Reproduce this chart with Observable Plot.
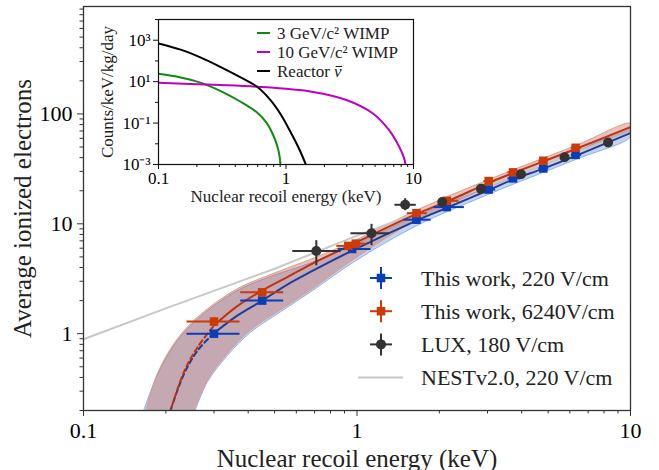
<!DOCTYPE html>
<html><head><meta charset="utf-8">
<script src="https://cdn.jsdelivr.net/npm/d3@7"></script>
<script src="https://cdn.jsdelivr.net/npm/@observablehq/plot@0.6"></script>
<style>
body{margin:0;background:#fff;}
#wrap{position:relative;width:659px;height:470px;font-family:"Liberation Serif",serif;}
#wrap svg{position:absolute;overflow:visible;}
</style></head><body><div id="wrap"></div>
<script>
// ---------- main chart data ----------
const blueE    = [0.30, 0.45, 0.96, 1.65, 2.13, 3.03, 3.72, 4.8, 6.3];
const blueV    = [1.0, 2.0, 5.9, 10.9, 14.2, 20.5, 25.9, 31.9, 42.4];
const blueElo  = [0.238, 0.374, 0.85, 1.48, 1.90, 2.90, 3.55, 4.6, 6.05];
const blueEhi  = [0.372, 0.537, 1.12, 1.86, 2.46, 3.20, 3.95, 5.0, 6.6];
const redE     = [0.30, 0.45, 0.93, 0.99, 1.65, 2.13, 3.03, 3.72, 4.8, 6.3];
const redV     = [1.29, 2.38, 6.3, 6.6, 12.5, 16.2, 24.5, 29.4, 37.5, 49.2];
const redElo   = [0.238, 0.374, 0.84, 0.90, 1.52, 2.0, 2.90, 3.55, 4.6, 6.05];
const redEhi   = [0.372, 0.537, 1.02, 1.08, 1.80, 2.35, 3.20, 3.95, 5.0, 6.6];
const redVlo   = [1.18, 2.2, 6.0, 6.3, 12.0, 15.6, 23.6, 28.4, 36.3, 47.6];
const redVhi   = [1.41, 2.56, 6.6, 6.9, 13.0, 16.8, 25.4, 30.4, 38.7, 50.8];
const luxE     = [0.71, 1.13, 1.50, 2.05, 2.84, 3.98, 5.74, 8.28];
const luxV     = [5.65, 8.2, 14.9, 15.8, 20.8, 28.3, 40.3, 55];
const luxElo   = [0.58, 0.946, 1.37, 2.0, 2.78, 3.9, 5.65, 8.2];
const luxEhi   = [0.87, 1.31, 1.64, 2.1, 2.9, 4.06, 5.83, 8.36];
const luxVlo   = [4.2, 6.4, 13.3, 15.3, 20.2, 27.6, 39.5, 54];
const luxVhi   = [7.1, 10.0, 17.1, 16.3, 21.4, 29.0, 41.1, 56];
// fitted curves
const blueFitE = [0.208, 0.233, 0.261, 0.30, 0.365, 0.45, 0.556, 0.676, 0.96, 1.65, 2.13, 3.03, 3.72, 4.8, 6.3, 10];
const blueFitV = [0.2, 0.43, 0.70, 1.01, 1.46, 2.0, 2.8, 3.65, 5.7, 10.7, 14.0, 20.3, 25.3, 31.8, 41.5, 67];
const redFitE  = [0.208, 0.233, 0.261, 0.30, 0.365, 0.45, 0.556, 0.676, 0.96, 1.65, 2.13, 3.03, 3.72, 4.8, 6.3, 10];
const redFitV  = [0.2, 0.45, 0.75, 1.19, 1.78, 2.47, 3.27, 4.26, 6.5, 12.3, 15.9, 23.6, 29.0, 37.0, 48.0, 76];
// uncertainty bands: upper edge and lower edge
const blueHiE = [0.166, 0.186, 0.214, 0.246, 0.30, 0.374, 0.497, 0.676, 1.0, 1.65, 3.03, 6.3, 10];
const blueHiV = [0.2, 0.42, 0.78, 1.18, 1.8, 2.55, 3.4, 4.4, 6.6, 11.8, 21.8, 45, 73];
const blueLoE = [0.256, 0.283, 0.335, 0.408, 0.525, 0.676, 1.0, 1.65, 3.03, 6.3, 10];
const blueLoV = [0.2, 0.36, 0.63, 1.03, 1.58, 2.4, 4.7, 9.6, 18.6, 38.5, 62];
const redHiE  = [0.169, 0.186, 0.214, 0.246, 0.30, 0.374, 0.497, 0.676, 1.0, 1.65, 3.03, 6.3, 10];
const redHiV  = [0.2, 0.43, 0.81, 1.23, 1.87, 2.65, 3.55, 4.75, 7.2, 13.3, 25.3, 51.5, 82];
const redLoE  = [0.253, 0.283, 0.335, 0.408, 0.525, 0.676, 1.0, 1.65, 3.03, 6.3, 10];
const redLoV  = [0.2, 0.375, 0.66, 1.08, 1.65, 2.5, 5.0, 10.8, 21.5, 44.5, 70];
// NEST v2.0 prediction
const nestE = [0.1, 0.2, 0.5, 1, 2, 5, 10];
const nestV = [0.89, 1.7, 3.9, 7.8, 15, 36, 68];
// ticks
const xMajor = [0.1, 1, 10];
const xMinor = [0.2,0.3,0.4,0.5,0.6,0.7,0.8,0.9,2,3,4,5,6,7,8,9];
const yMajor = [1, 10, 100];
const yMinor = [0.2,0.3,0.4,0.5,0.6,0.7,0.8,0.9,2,3,4,5,6,7,8,9,20,30,40,50,60,70,80,90,200,300,400,500,600,700,800,900];

// ---------- inset data ----------
const reactorE = [0.1, 0.149, 0.213, 0.305, 0.437, 0.59, 0.75, 0.90, 1.07, 1.28, 1.43];
const reactorR = [700, 350, 148, 52, 16.6, 5.8, 1.36, 0.29, 0.044, 0.005, 0.001];
const wimp3E = [0.1, 0.149, 0.213, 0.305, 0.437, 0.59, 0.707, 0.79, 0.86, 0.89, 0.905];
const wimp3R = [24, 16, 9, 3.6, 1.1, 0.33, 0.1, 0.028, 0.0068, 0.0025, 0.001];
const wimp10E = [0.1, 0.27, 0.59, 1.63, 2.98, 4.81, 6.46, 7.76, 8.4, 8.66];
const wimp10R = [8.9, 7.0, 5.7, 3.2, 1.3, 0.29, 0.044, 0.0068, 0.0022, 0.001];
const insetXMajor = [0.1, 1, 10];
const insetYMajor = [1e-3, 1e-1, 1e1, 1e3];
const insetYMinor = [1e-2, 1, 1e2, 1e4];

// colours
const BLUE = "#0a3db8", RED = "#cc3a08", LUX = "#333333";
const BLUE_LINE = "#1f3c9c", RED_LINE = "#bf3314";

const rows = (xs, ys) => xs.map((x, i) => ({x, y: ys[i]}));
const poly = (hx, hy, lx, ly) => rows(hx, hy).concat(rows(lx, ly).reverse());
const pts = (E, V, lo, hi, vlo, vhi) => E.map((e, i) => ({e, v: V[i], lo: lo[i], hi: hi[i], vlo: vlo ? vlo[i] : V[i], vhi: vhi ? vhi[i] : V[i]}));

const bluePts = pts(blueE, blueV, blueElo, blueEhi);
const redPts = pts(redE, redV, redElo, redEhi, redVlo, redVhi);
const luxPts = pts(luxE, luxV, luxElo, luxEhi, luxVlo, luxVhi);
const blueFit = rows(blueFitE, blueFitV), redFit = rows(redFitE, redFitV);

const FONT = "Liberation Serif";
const CURVE = "catmull-rom";
const main = Plot.plot({
  width: 659, height: 470,
  marginLeft: 83, marginRight: 29, marginTop: 6, marginBottom: 60,
  style: {fontFamily: FONT, background: "transparent", color: "#000"},
  x: {type: "log", domain: [0.1, 10]},
  y: {type: "log", domain: [0.2, 950]},
  marks: [
    Plot.line(poly(blueHiE, blueHiV, blueLoE, blueLoV), {x: "x", y: "y", fill: "#8fb0ea", fillOpacity: 0.55, stroke: "#8fb0ea", strokeWidth: 1, curve: CURVE, clip: true}),
    Plot.line(poly(redHiE, redHiV, redLoE, redLoV), {x: "x", y: "y", fill: "#c8604a", fillOpacity: 0.38, stroke: "#e09a88", strokeWidth: 1, curve: CURVE, clip: true}),
    Plot.line(rows(nestE, nestV), {x: "x", y: "y", stroke: "#c8c8c8", strokeWidth: 2, clip: true}),
    Plot.line(blueFit.filter(d => d.x <= 0.30), {x: "x", y: "y", stroke: BLUE_LINE, strokeWidth: 2, strokeDasharray: "5,3.5", curve: CURVE, clip: true}),
    Plot.line(redFit.filter(d => d.x <= 0.30), {x: "x", y: "y", stroke: RED_LINE, strokeWidth: 2, strokeDasharray: "5,3.5", strokeDashoffset: 4, curve: CURVE, clip: true}),
    Plot.line(blueFit.filter(d => d.x >= 0.30), {x: "x", y: "y", stroke: BLUE_LINE, strokeWidth: 2, curve: CURVE, clip: true}),
    Plot.line(redFit.filter(d => d.x >= 0.30), {x: "x", y: "y", stroke: RED_LINE, strokeWidth: 2, curve: CURVE, clip: true}),
    // error bars and markers
    Plot.link(bluePts, {x1: "lo", x2: "hi", y1: "v", y2: "v", stroke: BLUE, strokeWidth: 2}),
    Plot.dot(bluePts, {x: "e", y: "v", symbol: "square", r: 4.8, fill: BLUE, stroke: "none"}),
    Plot.link(redPts, {x1: "lo", x2: "hi", y1: "v", y2: "v", stroke: RED, strokeWidth: 2}),
    Plot.link(redPts, {x1: "e", x2: "e", y1: "vlo", y2: "vhi", stroke: RED, strokeWidth: 2}),
    Plot.dot(redPts, {x: "e", y: "v", symbol: "square", r: 4.8, fill: RED, stroke: "none"}),
    Plot.link(luxPts, {x1: "lo", x2: "hi", y1: "v", y2: "v", stroke: LUX, strokeWidth: 2}),
    Plot.link(luxPts, {x1: "e", x2: "e", y1: "vlo", y2: "vhi", stroke: LUX, strokeWidth: 2}),
    Plot.dot(luxPts, {x: "e", y: "v", r: 5, fill: LUX, stroke: "none"}),
    Plot.frame({stroke: "#333", strokeWidth: 1.3}),
    Plot.axisX({ticks: xMajor, tickSize: 6, tickPadding: 6, fontSize: 22, stroke: "#333", tickFormat: d => String(d), label: null}),
    Plot.axisX({ticks: xMinor, tickSize: 3.5, stroke: "#333", tickFormat: () => "", label: null}),
    Plot.axisY({ticks: yMajor, tickSize: 6, tickPadding: 5, fontSize: 22, stroke: "#333", tickFormat: d => String(d), label: null}),
    Plot.axisY({ticks: yMinor, tickSize: 3.5, stroke: "#333", tickFormat: () => "", label: null}),
    Plot.text(["Nuclear recoil energy (keV)"], {frameAnchor: "bottom", textAnchor: "middle", lineAnchor: "middle", dy: 48, fontSize: 25, fill: "#222"}),
    Plot.text(["Average ionized electrons"], {frameAnchor: "left", textAnchor: "middle", lineAnchor: "middle", dx: -61, rotate: -90, fontSize: 25, fill: "#222"})
  ]
});
main.style.left = "0px"; main.style.top = "0px";
document.getElementById("wrap").append(main);

// ---------- inset ----------
const sup = {"-": "⁻", "0": "⁰", "1": "¹", "2": "²", "3": "³", "4": "⁴"};
const supFmt = d => "10" + String(Math.round(Math.log10(d))).split("").map(c => sup[c]).join("");
const inset = Plot.plot({
  width: 332, height: 206,
  marginLeft: 60, marginRight: 17, marginTop: 19, marginBottom: 42,
  style: {fontFamily: FONT, background: "transparent", color: "#000"},
  x: {type: "log", domain: [0.1, 10]},
  y: {type: "log", domain: [1e-3, 1e4]},
  marks: [
    Plot.frame({fill: "#fff", stroke: "none"}),
    Plot.line(rows(wimp3E, wimp3R), {x: "x", y: "y", stroke: "#118a11", strokeWidth: 2, curve: CURVE, clip: true}),
    Plot.line(rows(wimp10E, wimp10R), {x: "x", y: "y", stroke: "#c000c0", strokeWidth: 2, curve: CURVE, clip: true}),
    Plot.line(rows(reactorE, reactorR), {x: "x", y: "y", stroke: "#000", strokeWidth: 2, curve: CURVE, clip: true}),
    Plot.frame({stroke: "#111", strokeWidth: 1.2}),
    Plot.axisX({ticks: insetXMajor, tickSize: 5, tickPadding: 2, fontSize: 17, stroke: "#111", tickFormat: d => String(d), label: null}),
    Plot.axisX({ticks: xMinor, tickSize: 3, stroke: "#111", tickFormat: () => "", label: null}),
    Plot.axisY({ticks: insetYMajor, tickSize: 5, tickPadding: 3, fontSize: 17, stroke: "#111", tickFormat: supFmt, label: null}),
    Plot.axisY({ticks: insetYMinor, tickSize: 3, stroke: "#111", tickFormat: () => "", label: null}),
    Plot.text(["Nuclear recoil energy (keV)"], {frameAnchor: "bottom", textAnchor: "middle", lineAnchor: "middle", dy: 32, fontSize: 17, fill: "#222"}),
    Plot.text(["Counts/keV/kg/day"], {frameAnchor: "left", textAnchor: "middle", lineAnchor: "middle", dx: -51, rotate: -90, fontSize: 17, fill: "#222"})
  ]
});
inset.style.left = "98px"; inset.style.top = "0px";
document.getElementById("wrap").append(inset);

// ---------- legends ----------
const leg = d3.select("#wrap").append("svg").attr("width", 659).attr("height", 470)
  .style("left", "0px").style("top", "0px").style("font-family", FONT);
const mainItems = [
  {label: "This work, 220 V/cm", color: BLUE, sym: "sq"},
  {label: "This work, 6240V/cm", color: RED, sym: "sq"},
  {label: "LUX, 180 V/cm", color: LUX, sym: "ci"},
  {label: "NESTv2.0, 220 V/cm", color: "#c8c8c8", sym: "line"}
];
mainItems.forEach((it, i) => {
  const cy = 278 + i * 33.2, cx = 381;
  const g = leg.append("g");
  if (it.sym === "line") {
    g.append("line").attr("x1", 358).attr("x2", 403).attr("y1", cy).attr("y2", cy).attr("stroke", it.color).attr("stroke-width", 2);
  } else {
    g.append("line").attr("x1", cx - 11).attr("x2", cx + 11).attr("y1", cy).attr("y2", cy).attr("stroke", it.color).attr("stroke-width", 2);
    g.append("line").attr("x1", cx).attr("x2", cx).attr("y1", cy - 11).attr("y2", cy + 11).attr("stroke", it.color).attr("stroke-width", 2);
    if (it.sym === "sq") g.append("rect").attr("x", cx - 4.3).attr("y", cy - 4.3).attr("width", 8.6).attr("height", 8.6).attr("fill", it.color);
    else g.append("circle").attr("cx", cx).attr("cy", cy).attr("r", 5).attr("fill", it.color);
  }
  g.append("text").attr("x", 421).attr("y", cy).attr("dy", "0.35em").attr("font-size", 22).attr("fill", "#222").text(it.label);
});
const insetItems = [
  {label: "3 GeV/c² WIMP", color: "#118a11"},
  {label: "10 GeV/c² WIMP", color: "#c000c0"},
  {label: "Reactor ", color: "#000", nu: true}
];
insetItems.forEach((it, i) => {
  const cy = 33 + i * 19;
  leg.append("line").attr("x1", 257).attr("x2", 270).attr("y1", cy).attr("y2", cy).attr("stroke", it.color).attr("stroke-width", 2);
  const t = leg.append("text").attr("x", 277).attr("y", cy).attr("dy", "0.35em").attr("font-size", 17).attr("fill", "#222");
  t.append("tspan").text(it.label);
  if (it.nu) {
    t.append("tspan").attr("font-style", "italic").text("ν");
    const n = it.label.length;
    let ext;
    try { ext = t.node().getExtentOfChar(n); } catch (e) { ext = null; }
    if (ext) {
      leg.append("line").attr("x1", ext.x + 1.5).attr("x2", ext.x + ext.width + 0.5)
        .attr("y1", cy - 4.5).attr("y2", cy - 4.5).attr("stroke", "#222").attr("stroke-width", 1.1);
    }
  }
});
</script>
</body></html>
